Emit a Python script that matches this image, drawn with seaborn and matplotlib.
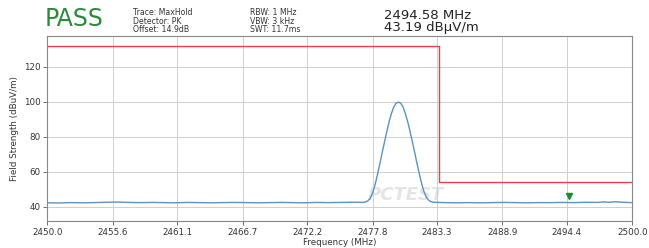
import matplotlib
matplotlib.use("Agg")
import matplotlib.pyplot as plt
import matplotlib.transforms as mtransforms
import seaborn as sns
import pandas as pd

# ---- data ----
trace_freq = [2450.0, 2451.0, 2452.0, 2453.0, 2454.0, 2455.0, 2456.0, 2457.0, 2458.0, 2459.0,
              2460.0, 2461.0, 2462.0, 2463.0, 2464.0, 2465.0, 2466.0, 2467.0, 2468.0, 2469.0,
              2470.0, 2471.0, 2472.0, 2473.0, 2474.0, 2475.0, 2476.0, 2476.5,
              2477.0, 2477.2, 2477.4, 2477.6, 2477.8, 2478.0, 2478.2, 2478.4, 2478.6, 2478.8,
              2479.0, 2479.2, 2479.4, 2479.6, 2479.8, 2480.0, 2480.2, 2480.4, 2480.6, 2480.8,
              2481.0, 2481.2, 2481.4, 2481.6, 2481.8, 2482.0, 2482.2, 2482.4, 2482.6, 2482.8,
              2483.0, 2483.5, 2484.0, 2485.0, 2486.0, 2487.0, 2488.0, 2489.0, 2490.0, 2491.0,
              2492.0, 2493.0, 2494.0, 2495.0, 2496.0, 2497.0, 2497.5, 2498.0, 2498.5, 2499.0,
              2499.5, 2500.0]
trace_level = [42.2, 42.1, 42.3, 42.2, 42.3, 42.5, 42.6, 42.4, 42.3, 42.4,
               42.3, 42.2, 42.4, 42.3, 42.2, 42.3, 42.4, 42.3, 42.2, 42.3,
               42.4, 42.3, 42.2, 42.4, 42.3, 42.4, 42.5, 42.5,
               42.4, 42.7, 43.3, 44.8, 47.7, 52.2, 57.8, 63.9, 70.2, 76.4,
               82.4, 88.2, 93.0, 96.8, 99.0, 99.7, 99.1, 97.0, 93.3, 88.6,
               83.0, 77.1, 70.9, 64.6, 58.6, 53.0, 48.4, 45.3, 43.6, 42.8,
               42.5, 42.4, 42.3, 42.2, 42.3, 42.2, 42.3, 42.4, 42.3, 42.2,
               42.3, 42.3, 42.4, 42.3, 42.5, 42.4, 42.7, 42.5, 42.8, 42.6,
               42.4, 42.3]

limit_freq = [2450.0, 2483.5, 2483.5, 2500.0]
limit_level = [132.0, 132.0, 54.0, 54.0]

xtick_values = [2450.0, 2455.6, 2461.1, 2466.7, 2472.2, 2477.8, 2483.3, 2488.9, 2494.4, 2500.0]
ytick_values = [40, 60, 80, 100, 120]

marker_freq = 2494.58
marker_level = 43.19

header_left = ["Trace: MaxHold", "Detector: PK", "Offset: 14.9dB"]
header_mid = ["RBW: 1 MHz", "VBW: 3 kHz", "SWT: 11.7ms"]
verdict = "PASS"

# ---- plot ----
sns.set_style("whitegrid")
plt.rcParams['font.family'] = ['DejaVu Sans']

fig = plt.figure(figsize=(6.49, 2.48), dpi=100)
ax = fig.add_axes([0.0729, 0.1089, 0.9014, 0.7459])

trace_df = pd.DataFrame({"Frequency": trace_freq, "Level": trace_level})
limit_df = pd.DataFrame({"Frequency": limit_freq, "Level": limit_level})

sns.lineplot(data=limit_df, x="Frequency", y="Level", ax=ax, color="#e8404a",
             linewidth=1.0, sort=False, estimator=None)
sns.lineplot(data=trace_df, x="Frequency", y="Level", ax=ax, color="#5b93c2",
             linewidth=1.0, sort=False, estimator=None)

off = mtransforms.offset_copy(ax.transData, fig=fig, x=0, y=4, units="points")
ax.plot([marker_freq], [marker_level], marker="v", color="#1e8a2e",
        markersize=5, linestyle="none", transform=off)

ax.set_xlim(2450.0, 2500.0)
ax.set_ylim(31.8, 137.5)
ax.set_xticks(xtick_values)
ax.set_xticklabels([f"{v:.1f}" for v in xtick_values], fontsize=6.3, color="#333333")
ax.set_yticks(ytick_values)
ax.set_yticklabels([str(v) for v in ytick_values], fontsize=6.3, color="#333333")
ax.tick_params(axis="both", length=3, width=0.6, color="#555555", pad=2,
               bottom=True, left=True)
ax.grid(True, color="#d0d0d0", linewidth=0.7)
for s in ax.spines.values():
    s.set_color("#888888")
    s.set_linewidth(0.8)

ax.set_xlabel("Frequency (MHz)", fontsize=6.3, color="#333333", labelpad=1)
ax.set_ylabel("Field Strength (dBuV/m)", fontsize=6.3, color="#333333", labelpad=3)

# watermark
ax.text(2480.6, 43.8, "PCTEST", fontsize=13, fontstyle="italic", fontweight="bold",
        color="#d4d4d4", alpha=0.6, ha="center", va="baseline", zorder=0)

# header
fig.text(0.069, 0.875, verdict, fontsize=17, color="#2a8a3a", ha="left", va="bottom")
fig.text(0.205, 0.862, "\n".join(header_left), fontsize=5.6, color="#333333",
         ha="left", va="bottom", linespacing=0.95)
fig.text(0.385, 0.862, "\n".join(header_mid), fontsize=5.6, color="#333333",
         ha="left", va="bottom", linespacing=0.95)
fig.text(0.592, 0.862, f"{marker_freq:.2f} MHz\n{marker_level:.2f} dBµV/m",
         fontsize=9.5, color="#222222", ha="left", va="bottom", linespacing=0.95)

fig.savefig("out.png", dpi=100)
